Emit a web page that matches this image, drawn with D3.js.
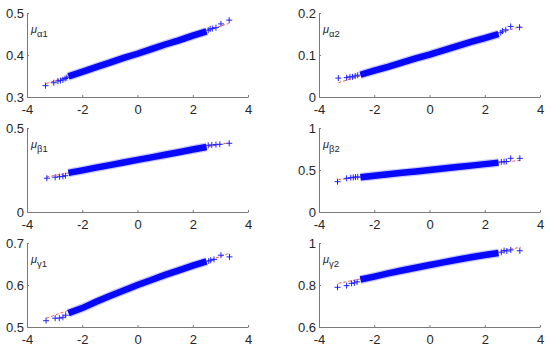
<!DOCTYPE html>
<html>
<head>
<meta charset="utf-8">
<script src="https://cdn.jsdelivr.net/npm/d3@7"></script>
<style>
  body { margin: 0; background: #fff; }
  svg { display: block; font-family: "Liberation Sans", Arial, sans-serif; }
</style>
</head>
<body>
<script>
// QQ plots of the six posterior means, 3 rows x 2 columns

var xTicks = [-4, -2, 0, 2, 4];

// standard normal quantiles of the dense part (read at these x positions)
var bodyQ = [-2.5, -2, -1.5, -1, -0.5, 0, 0.5, 1, 1.5, 2, 2.5];
// reference line ends
var refQ = [-3.3, 3.3];

// alpha 1
var yTicksA1 = [0.3, 0.4, 0.5];
var bodyA1 = [0.349, 0.360, 0.371, 0.382, 0.393, 0.403, 0.414, 0.425, 0.435, 0.446, 0.456];
var tailQA1 = [-3.33, -3.03, -2.88, -2.79, -2.70, -2.62, -2.56, 2.56, 2.63, 2.71, 2.84, 3.02, 3.32];
var tailA1 = [0.327, 0.334, 0.338, 0.339, 0.341, 0.344, 0.346, 0.459, 0.462, 0.463, 0.465, 0.474, 0.483];
var refA1 = [0.332, 0.475];

// alpha 2
var yTicksA2 = [0, 0.1, 0.2];
var bodyA2 = [0.053, 0.063, 0.072, 0.082, 0.092, 0.101, 0.111, 0.121, 0.131, 0.140, 0.150];
var tailQA2 = [-3.30, -3.00, -2.88, -2.79, -2.69, -2.60, 2.58, 2.64, 2.76, 2.94, 3.26];
var tailA2 = [0.045, 0.046, 0.048, 0.048, 0.050, 0.052, 0.153, 0.157, 0.160, 0.168, 0.166];
var refA2 = [0.034, 0.168];

// beta 1
var yTicksB1 = [0, 0.5];
var bodyB1 = [0.233, 0.248, 0.264, 0.279, 0.295, 0.310, 0.325, 0.341, 0.356, 0.372, 0.387];
var tailQB1 = [-3.28, -2.98, -2.82, -2.70, -2.61, 2.56, 2.69, 2.84, 2.98, 3.32];
var tailB1 = [0.201, 0.207, 0.210, 0.212, 0.216, 0.397, 0.399, 0.401, 0.403, 0.409];
var refB1 = [0.208, 0.412];

// beta 2
var yTicksB2 = [0, 0.5, 1];
var bodyB2 = [0.413, 0.432, 0.449, 0.466, 0.483, 0.500, 0.517, 0.535, 0.552, 0.570, 0.588];
var tailQB2 = [-3.33, -3.00, -2.85, -2.76, -2.68, -2.60, 2.60, 2.70, 2.78, 2.94, 3.27];
var tailB2 = [0.361, 0.401, 0.409, 0.412, 0.415, 0.418, 0.596, 0.599, 0.601, 0.639, 0.639];
var refB2 = [0.385, 0.615];

// gamma 1
var yTicksG1 = [0.5, 0.6, 0.7];
var bodyG1 = [0.533, 0.545, 0.560, 0.574, 0.587, 0.600, 0.612, 0.624, 0.635, 0.646, 0.656];
var tailQG1 = [-3.31, -2.98, -2.83, -2.70, -2.60, 2.58, 2.65, 2.77, 3.02, 3.33];
var tailG1 = [0.515, 0.521, 0.521, 0.523, 0.528, 0.657, 0.659, 0.661, 0.671, 0.667];
var refG1 = [0.521, 0.675];

// gamma 2
var yTicksG2 = [0.6, 0.8, 1];
var bodyG2 = [0.826, 0.840, 0.855, 0.869, 0.882, 0.895, 0.908, 0.920, 0.932, 0.943, 0.952];
var tailQG2 = [-3.33, -3.00, -2.82, -2.72, -2.62, 2.60, 2.70, 2.80, 2.94, 3.27];
var tailG2 = [0.789, 0.797, 0.808, 0.810, 0.815, 0.956, 0.964, 0.962, 0.967, 0.963];
var refG2 = [0.808, 0.980];

var panels = [
  {sym: "α1", ticks: yTicksA1, body: bodyA1, tq: tailQA1, tv: tailA1, ref: refA1},
  {sym: "α2", ticks: yTicksA2, body: bodyA2, tq: tailQA2, tv: tailA2, ref: refA2},
  {sym: "β1", ticks: yTicksB1, body: bodyB1, tq: tailQB1, tv: tailB1, ref: refB1},
  {sym: "β2", ticks: yTicksB2, body: bodyB2, tq: tailQB2, tv: tailB2, ref: refB2},
  {sym: "γ1", ticks: yTicksG1, body: bodyG1, tq: tailQG1, tv: tailG1, ref: refG1},
  {sym: "γ2", ticks: yTicksG2, body: bodyG2, tq: tailQG2, tv: tailG2, ref: refG2}
];

var W = 550, H = 353;
var colLeft = [27, 319], plotW = 221;
var rowTop = [13, 128, 243], plotH = 84;

var svg = d3.select("body").append("svg")
  .attr("width", W)
  .attr("height", H);

panels.forEach(function(p, i) {
  var left = colLeft[i % 2], top = rowTop[Math.floor(i / 2)];
  var g = svg.append("g").attr("transform", "translate(" + left + "," + top + ")");

  var x = d3.scaleLinear().domain([-4, 4]).range([0, plotW]);
  var y = d3.scaleLinear().domain(d3.extent(p.ticks)).range([plotH, 0]);

  // axes (box off, ticks inward), plain hyphen minus like the original
  var xAxis = g.append("g").attr("transform", "translate(0," + plotH + ")")
    .call(d3.axisBottom(x).tickValues(xTicks).tickSizeInner(-2).tickSizeOuter(0).tickPadding(8).tickFormat(function(d){ return String(d); }));
  var yAxis = g.append("g")
    .call(d3.axisLeft(y).tickValues(p.ticks).tickSizeInner(-2).tickSizeOuter(0).tickPadding(3).tickFormat(function(d){ return String(d); }));
  [xAxis, yAxis].forEach(function(a) {
    a.select(".domain").attr("stroke", "#7a7a7a");
    a.selectAll(".tick line").attr("stroke", "#7a7a7a");
    a.selectAll("text").attr("fill", "#262626").style("font-size", "13px");
  });

  // reference line (under the markers)
  g.append("line")
    .attr("x1", x(refQ[0])).attr("y1", y(p.ref[0]))
    .attr("x2", x(refQ[1])).attr("y2", y(p.ref[1]))
    .attr("stroke", "#e0302a").attr("stroke-width", 0.8)
    .attr("stroke-dasharray", "3,2");

  // dense band of + markers, drawn as a thick stroke through the read points
  var band = d3.line().x(function(d, j){ return x(bodyQ[j]); }).y(function(d){ return y(d); });
  g.append("path").datum(p.body).attr("d", band)
    .attr("fill", "none").attr("stroke", "#6a6aff").attr("stroke-opacity", 0.35)
    .attr("stroke-width", 9);
  g.append("path").datum(p.body).attr("d", band)
    .attr("fill", "none").attr("stroke", "#0808ff")
    .attr("stroke-width", 6.5);

  // tail markers
  var s = 3;
  g.selectAll("path.mk").data(p.tv).enter().append("path")
    .attr("class", "mk")
    .attr("d", function(d, j) {
      var cx = x(p.tq[j]), cy = y(d);
      return "M" + (cx - s) + "," + cy + "H" + (cx + s) + "M" + cx + "," + (cy - s) + "V" + (cy + s);
    })
    .attr("stroke", "#2020ff").attr("stroke-width", 1).attr("fill", "none");

  // label
  var lab = g.append("text").attr("x", 4).attr("y", 20).attr("fill", "#262626");
  lab.append("tspan").text("μ").style("font-size", "11px").style("font-style", "italic");
  lab.append("tspan").text(p.sym).attr("dy", 4).style("font-size", "9.5px");
});
</script>
</body>
</html>
